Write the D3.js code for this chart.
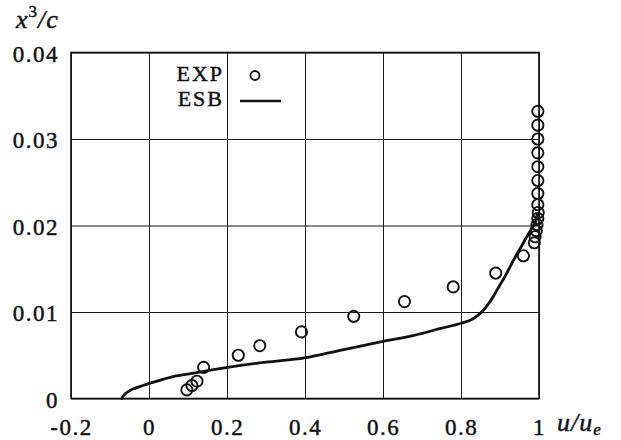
<!DOCTYPE html>
<html>
<head>
<meta charset="utf-8">
<script src="https://cdn.jsdelivr.net/npm/d3@7"></script>
<style>
  html, body { margin: 0; padding: 0; background: #fff; }
  svg { display: block; }
</style>
</head>
<body>
<svg id="chart" width="621" height="440"></svg>
<script>
// Velocity profile u/ue versus x3/c : experiment (circles) and ESB computation (line)
const expU = [0.097, 0.110, 0.123, 0.140, 0.229, 0.284, 0.391, 0.525, 0.655, 0.780, 0.889, 0.960,
              0.988, 0.990, 0.993, 0.995, 0.997, 0.998, 0.997, 0.997, 0.997, 0.997, 0.997, 0.997, 0.997, 0.997];
const expY = [0.0010, 0.0015, 0.0020, 0.0036, 0.0050, 0.0061, 0.0077, 0.0095, 0.0112, 0.0129, 0.0145, 0.0165,
              0.0180, 0.0187, 0.0194, 0.0201, 0.0208, 0.0215, 0.0224, 0.0237, 0.0252, 0.0268, 0.0284, 0.0300, 0.0316, 0.0332];

const esbU = [-0.070, -0.062, -0.050, -0.035, -0.015, 0.005, 0.035, 0.067, 0.110, 0.161, 0.202, 0.300,
              0.399, 0.493, 0.600, 0.680, 0.748, 0.800, 0.830, 0.851, 0.873, 0.893, 0.915, 0.936,
              0.955, 0.970, 0.983, 0.991, 0.996];
const esbY = [0.0000, 0.0005, 0.0009, 0.0012, 0.0015, 0.0018, 0.0022, 0.0026, 0.0029, 0.0033, 0.0036, 0.0042,
              0.0047, 0.0056, 0.0066, 0.0073, 0.0081, 0.0087, 0.0092, 0.0099, 0.0111, 0.0126, 0.0143, 0.0161,
              0.0176, 0.0188, 0.0198, 0.0204, 0.0213];

const xTicks = [-0.2, 0, 0.2, 0.4, 0.6, 0.8, 1];
const xTickLabels = ["-0.2", "0", "0.2", "0.4", "0.6", "0.8", "1"];
const yTicks = [0, 0.01, 0.02, 0.03, 0.04];
const yTickLabels = ["0", "0.01", "0.02", "0.03", "0.04"];
const legendLabels = ["EXP", "ESB"];

const FONT = "'Liberation Serif', 'Times New Roman', serif";
const INK = "#111";

// serif text styling shared by every label
function serif(sel, size) {
  return sel.style("font-family", FONT)
    .style("font-size", size + "px")
    .attr("fill", INK)
    .attr("stroke", INK)
    .attr("stroke-width", 0.45);
}

const svg = d3.select("#chart");
const plotL = 71, plotR = 539, plotT = 52.5, plotB = 398.5;

const x = d3.scaleLinear().domain([-0.2, 1]).range([plotL, plotR]);
const y = d3.scaleLinear().domain([0, 0.04]).range([plotB, plotT]);

// grid + tick labels
const gx = svg.append("g").attr("transform", `translate(0,${plotB})`)
  .call(d3.axisBottom(x).tickValues(xTicks)
    .tickFormat((d, i) => xTickLabels[i])
    .tickSize(-(plotB - plotT)).tickPadding(0));
gx.select(".domain").remove();
gx.selectAll(".tick line").attr("stroke", "#1a1a1a").attr("stroke-width", 1);
serif(gx.selectAll(".tick text").attr("dy", null).attr("y", 36), 23)
  .style("letter-spacing", "1.5px");

const gy = svg.append("g").attr("transform", `translate(${plotL},0)`)
  .call(d3.axisLeft(y).tickValues(yTicks)
    .tickFormat((d, i) => yTickLabels[i])
    .tickSize(-(plotR - plotL)).tickPadding(12));
gy.select(".domain").remove();
gy.selectAll(".tick line").attr("stroke", "#1a1a1a").attr("stroke-width", 1);
serif(gy.selectAll(".tick text").attr("dy", null).attr("y", 8.5), 23)
  .style("letter-spacing", "1.5px");

// frame
svg.append("rect")
  .attr("x", plotL).attr("y", plotT)
  .attr("width", plotR - plotL).attr("height", plotB - plotT)
  .attr("fill", "none").attr("stroke", INK).attr("stroke-width", 1.6);

// ESB line
const esb = esbU.map((u, i) => [u, esbY[i]]);
svg.append("path")
  .datum(esb)
  .attr("fill", "none")
  .attr("stroke", INK)
  .attr("stroke-width", 2.8)
  .attr("stroke-linejoin", "round")
  .attr("stroke-linecap", "round")
  .attr("d", d3.line().x(d => x(d[0])).y(d => y(d[1])).curve(d3.curveMonotoneX));

// experimental points
svg.append("g").selectAll("circle")
  .data(expU.map((u, i) => [u, expY[i]]))
  .join("circle")
  .attr("cx", d => x(d[0]))
  .attr("cy", d => y(d[1]))
  .attr("r", 5.6)
  .attr("fill", "none")
  .attr("stroke", INK)
  .attr("stroke-width", 1.9);

// key
const key = svg.append("g");
serif(key.append("text").attr("x", 224).attr("y", 80.5).attr("text-anchor", "end"), 22)
  .style("letter-spacing", "2px").text(legendLabels[0]);
key.append("circle").attr("cx", 255).attr("cy", 75.5).attr("r", 4.5)
  .attr("fill", "none").attr("stroke", INK).attr("stroke-width", 1.8);
serif(key.append("text").attr("x", 224).attr("y", 105.5).attr("text-anchor", "end"), 22)
  .style("letter-spacing", "2px").text(legendLabels[1]);
key.append("line").attr("x1", 240).attr("x2", 281).attr("y1", 101).attr("y2", 101)
  .attr("stroke", INK).attr("stroke-width", 2.4);

// axis titles
const yt = serif(svg.append("text").attr("x", 16).attr("y", 28), 26)
  .style("letter-spacing", "1px");
yt.append("tspan").attr("font-style", "italic").text("x");
yt.append("tspan").style("font-size", "17px").attr("dy", -11).text("3");
yt.append("tspan").attr("dy", 11).attr("font-style", "italic").text("/c");

const xt = serif(svg.append("text").attr("x", 557).attr("y", 431), 26)
  .style("letter-spacing", "1px");
xt.append("tspan").attr("font-style", "italic").text("u/u");
xt.append("tspan").attr("font-style", "italic").style("font-size", "17px").attr("dy", 4).text("e");
</script>
</body>
</html>
